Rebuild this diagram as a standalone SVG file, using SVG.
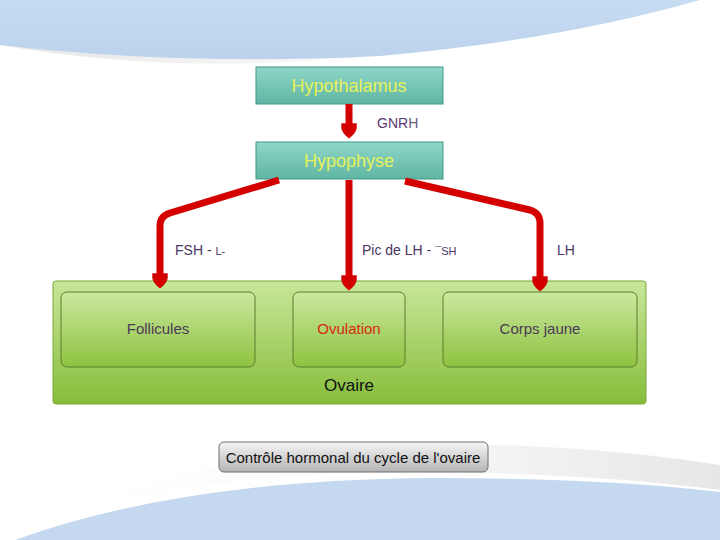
<svg xmlns="http://www.w3.org/2000/svg" width="720" height="540" viewBox="0 0 720 540">
<style>
text{font-family:"Liberation Sans",Arial,sans-serif}
.teal{fill:url(#gTeal);stroke:#3f9a88;stroke-width:1}
.tealt{fill:#e6f25a;font-size:18px;text-anchor:middle}
.inner{fill:url(#gGreen);stroke:#5c7d2c;stroke-width:1}
.lbl{fill:#4a3562;font-size:14px}
.conn{fill:none;stroke:#d40000;stroke-width:7;stroke-linejoin:round;stroke-linecap:butt}
</style>
<defs>
<linearGradient id="gTeal" x1="0" y1="0" x2="0" y2="1"><stop offset="0" stop-color="#8fd6c8"/><stop offset="1" stop-color="#5fb5a3"/></linearGradient>
<linearGradient id="gGreen" x1="0" y1="0" x2="0" y2="1"><stop offset="0" stop-color="#cce8a0"/><stop offset="1" stop-color="#8cc23e"/></linearGradient>
<linearGradient id="gOut" x1="0" y1="0" x2="0" y2="1"><stop offset="0" stop-color="#c8e79a"/><stop offset="1" stop-color="#86bd3a"/></linearGradient>
<linearGradient id="gGray" x1="0" y1="0" x2="0" y2="1"><stop offset="0" stop-color="#f6f6f6"/><stop offset="1" stop-color="#b4b4b4"/></linearGradient>
<linearGradient id="gBlueTop" x1="0" y1="0" x2="0" y2="1"><stop offset="0" stop-color="#c6dcf2"/><stop offset="1" stop-color="#bcd2ec"/></linearGradient>
<linearGradient id="gShadow" x1="0" y1="0" x2="1" y2="0"><stop offset="0" stop-color="#e4e4e4"/><stop offset="0.3" stop-color="#f2f2f2"/><stop offset="1" stop-color="#ffffff" stop-opacity="0"/></linearGradient>
<linearGradient id="gShadow2" x1="1" y1="0" x2="0" y2="0"><stop offset="0" stop-color="#e4e4e4"/><stop offset="0.3" stop-color="#f2f2f2"/><stop offset="1" stop-color="#ffffff" stop-opacity="0"/></linearGradient>
<marker id="ah" viewBox="0 0 10 10" refX="7" refY="5" markerWidth="2.2" markerHeight="2.2" orient="auto" markerUnits="strokeWidth">
<path d="M0,0 L3,0 Q6,0 10,5 Q6,10 3,10 L0,10 Z" fill="#d40000"/>
</marker>
</defs>
<rect width="720" height="540" fill="#ffffff"/>
<g id="background">
<path d="M0,45 Q200,80 420,50 Q600,20 720,0 L720,0 L0,0 Z" fill="url(#gShadow)" opacity="0.9"/>
<path d="M0,0 L700,0 Q560,40 380,56 Q180,66 0,45 Z" fill="url(#gBlueTop)"/>
<path d="M0,540 Q160,470 430,472 Q600,474 720,490 L720,465 Q560,440 380,445 Q200,450 0,540 Z" fill="url(#gShadow2)" opacity="0.9"/>
<path d="M15,540 Q180,480 430,478 Q600,478 720,492 L720,540 Z" fill="#c4d9ef"/>
</g>
<g id="ovaire">
<rect x="53" y="281" width="593" height="123" rx="3" fill="url(#gOut)" stroke="#7aa83a" stroke-width="1"/>
<text x="349" y="391" font-size="17" fill="#111" text-anchor="middle">Ovaire</text>
</g>
<g id="follicules">
<rect class="inner" x="61" y="292" width="194" height="75" rx="6"/>
<text x="158" y="334" font-size="15" fill="#4a3a58" text-anchor="middle">Follicules</text>
</g>
<g id="ovulation">
<rect class="inner" x="293" y="292" width="112" height="75" rx="6"/>
<text x="349" y="334" font-size="15" fill="#d82a10" text-anchor="middle">Ovulation</text>
</g>
<g id="corps-jaune">
<rect class="inner" x="443" y="292" width="194" height="75" rx="6"/>
<text x="540" y="334" font-size="15" fill="#4a3a58" text-anchor="middle">Corps jaune</text>
</g>
<g id="hypothalamus">
<rect class="teal" x="256" y="67" width="187" height="37"/>
<text class="tealt" x="349" y="92">Hypothalamus</text>
</g>
<g id="hypophyse">
<rect class="teal" x="256" y="142" width="187" height="37"/>
<text class="tealt" x="349" y="167">Hypophyse</text>
</g>
<g id="connectors">
<path class="conn" d="M349,104 L349,134" marker-end="url(#ah)"/>
<path class="conn" d="M279,180 L170,213 Q160,216 160,226 L160,284" marker-end="url(#ah)"/>
<path class="conn" d="M349,180 L349,286" marker-end="url(#ah)"/>
<path class="conn" d="M405,181 L530,210 Q540,213 540,223 L540,287" marker-end="url(#ah)"/>
</g>
<g id="labels">
<text x="377" y="128" font-size="14" fill="#5a3a70">GNR<tspan fill="#6a5a80">H</tspan></text>
<text class="lbl" x="175" y="255">FSH - <tspan font-size="11">L-</tspan></text>
<text class="lbl" x="362" y="255">Pic de LH - <tspan font-size="11">¯SH</tspan></text>
<text class="lbl" x="557" y="255">LH</text>
</g>
<g id="caption">
<rect x="219" y="442" width="269" height="30" rx="5" fill="url(#gGray)" stroke="#6e6e6e" stroke-width="1"/>
<text x="353" y="463" font-size="15" fill="#111" text-anchor="middle">Contrôle hormonal du cycle de l'ovaire</text>
</g>
</svg>
